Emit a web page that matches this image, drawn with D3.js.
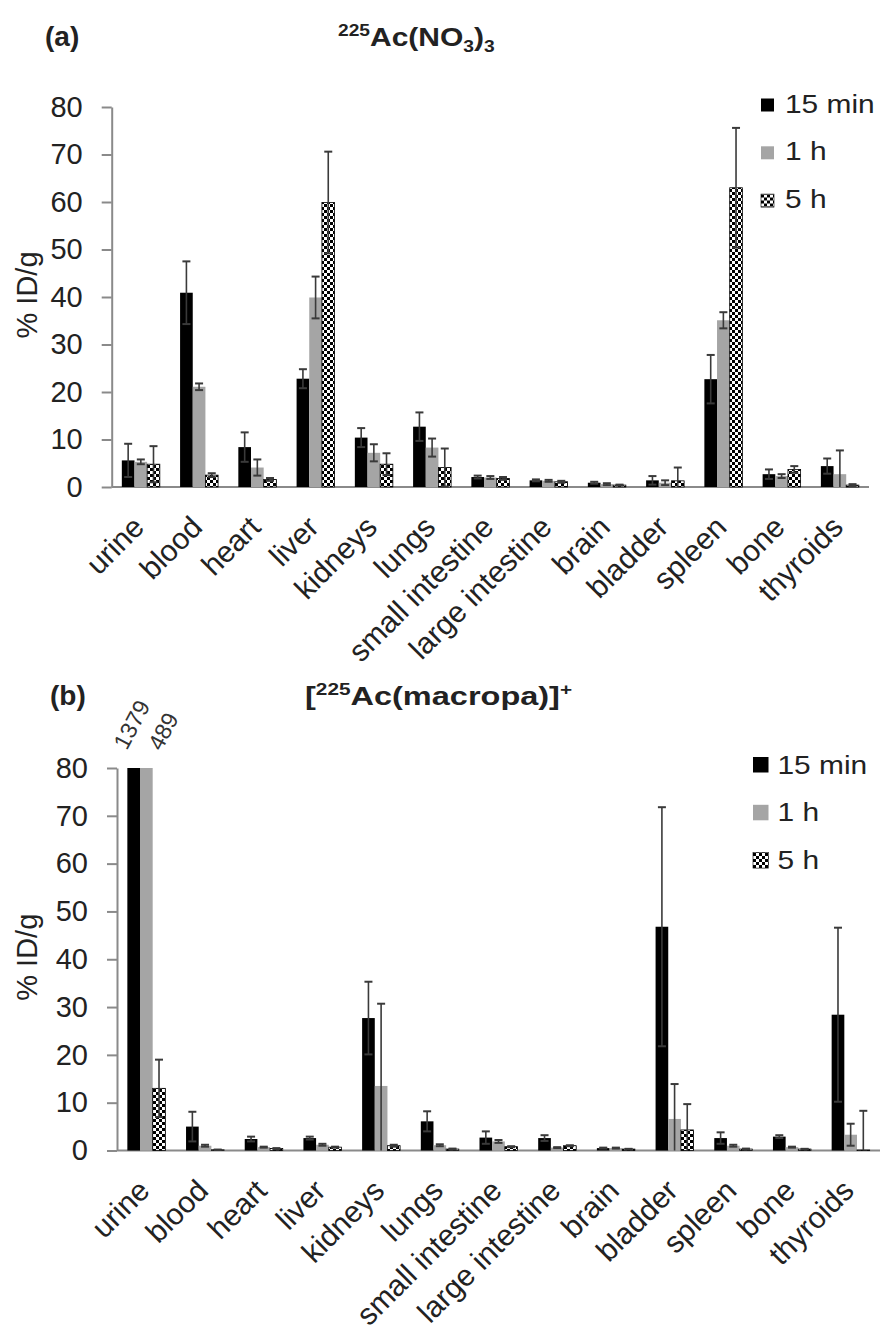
<!DOCTYPE html>
<html>
<head>
<meta charset="utf-8">
<script src="https://cdn.jsdelivr.net/npm/d3@7"></script>
<style>
  body { margin: 0; background: #fff; }
  svg text { font-family: "Liberation Sans", Arial, sans-serif; }
</style>
</head>
<body>
<div id="chart"></div>
<script>
const organs = ["urine", "blood", "heart", "liver", "kidneys", "lungs", "small intestine",
  "large intestine", "brain", "bladder", "spleen", "bone", "thyroids"];
const seriesNames = ["15 min", "1 h", "5 h"];
const yTicks = [0, 10, 20, 30, 40, 50, 60, 70, 80];

// (a) 225Ac(NO3)3, % ID/g
const nitrate15 = [5.6, 40.9, 8.4, 22.8, 10.4, 12.7, 2.1, 1.4, 0.9, 1.4, 22.7, 2.7, 4.4];
const nitrate15Err = [3.5, 6.6, 3.1, 2.0, 2.0, 3.0, 0.3, 0.2, 0.2, 0.9, 5.1, 1.0, 1.6];
const nitrate1h = [5.3, 21.1, 4.1, 39.9, 7.2, 8.3, 2.0, 1.3, 0.6, 0.9, 35.1, 2.3, 2.7];
const nitrate1hErr = [0.5, 0.7, 1.7, 4.4, 1.8, 1.9, 0.3, 0.2, 0.2, 0.5, 1.7, 0.4, 5.0];
const nitrate5h = [4.8, 2.5, 1.6, 59.9, 4.8, 4.1, 1.8, 1.1, 0.4, 1.3, 63.0, 3.7, 0.4];
const nitrate5hErr = [3.8, 0.4, 0.3, 10.7, 2.3, 4.0, 0.3, 0.2, 0.1, 2.8, 12.6, 0.7, 0.2];

// (b) [225Ac(macropa)]+, % ID/g
const macropa15 = [1379, 5.0, 2.4, 2.6, 27.7, 6.1, 2.7, 2.6, 0.5, 46.8, 2.6, 2.9, 28.4];
const macropa15Err = [null, 3.1, 0.5, 0.3, 7.6, 2.1, 1.3, 0.6, 0.1, 25.0, 1.2, 0.3, 18.2];
const macropa1h = [489, 1.0, 0.7, 1.2, 13.5, 1.1, 1.9, 0.6, 0.5, 6.6, 1.0, 0.7, 3.3];
const macropa1hErr = [null, 0.2, 0.1, 0.2, 17.2, 0.2, 0.3, 0.1, 0.1, 7.3, 0.2, 0.1, 2.3];
const macropa5h = [13.0, 0.15, 0.4, 0.7, 1.0, 0.3, 0.8, 1.0, 0.3, 4.3, 0.3, 0.3, 0.1];
const macropa5hErr = [6.0, 0.05, 0.1, 0.1, 0.2, 0.1, 0.1, 0.1, 0.05, 5.4, 0.1, 0.05, 8.2];

const W = 880, H = 1332;
const svg = d3.select('#chart').append('svg').attr('width', W).attr('height', H);

// checkered fill for 5 h
const pat = svg.append('defs').append('pattern')
  .attr('id', 'checker').attr('patternUnits', 'userSpaceOnUse')
  .attr('width', 6).attr('height', 6);
pat.append('rect').attr('width', 6).attr('height', 6).attr('fill', '#fff');
pat.append('rect').attr('width', 3).attr('height', 3).attr('fill', '#000');
pat.append('rect').attr('x', 3).attr('y', 3).attr('width', 3).attr('height', 3).attr('fill', '#000');

const fills = ['#000', '#a5a5a5', 'url(#checker)'];
const axisColor = '#8a8a8a';
const ink = '#222';

function drawPanel(p) {
  const g = svg.append('g');
  const x = d3.scaleBand().domain(organs).range([p.left, p.right]);
  const bw = x.bandwidth();
  const xs = d3.scaleBand().domain(seriesNames).range([bw / 2 - 19, bw / 2 + 19]);
  const y = d3.scaleLinear().domain([0, 80]).range([p.bottom, p.top]).clamp(true);

  // y axis
  g.append('g')
    .attr('transform', `translate(${p.left},0)`)
    .call(d3.axisLeft(y).tickValues(yTicks).tickSize(10).tickSizeOuter(0).tickPadding(19))
    .attr('font-family', null).attr('font-size', null)
    .call(s => s.selectAll('line, path').attr('stroke', axisColor).attr('stroke-width', 2))
    .call(s => s.selectAll('text').attr('font-size', 29).attr('fill', ink));

  g.append('line')
    .attr('x1', p.left).attr('x2', p.right)
    .attr('y1', y(0)).attr('y2', y(0))
    .attr('stroke', axisColor).attr('stroke-width', 2);

  const rows = organs.flatMap((o, i) => seriesNames.map((s, j) =>
    ({organ: o, s: s, j: j, v: p.means[j][i], e: p.errs[j][i]})));

  g.selectAll('rect.bar')
    .data(rows)
    .enter()
    .append('rect')
    .attr('class', 'bar')
    .attr('x', d => x(d.organ) + xs(d.s))
    .attr('y', d => y(d.v))
    .attr('width', xs.bandwidth())
    .attr('height', d => y(0) - y(d.v))
    .attr('fill', d => fills[d.j])
    .attr('stroke', d => d.j === 2 ? '#000' : 'none')
    .attr('stroke-width', 0.8);

  // error bars
  const eb = rows.filter(d => d.e != null);
  const cx = d => x(d.organ) + xs(d.s) + xs.bandwidth() / 2;
  g.selectAll('line.err')
    .data(eb)
    .enter()
    .append('line')
    .attr('class', 'err')
    .attr('x1', cx).attr('x2', cx)
    .attr('y1', d => y(d.v - d.e)).attr('y2', d => y(d.v + d.e))
    .attr('stroke', '#3a3a3a').attr('stroke-width', 1.6);
  const caps = eb.flatMap(d => [{d: d, val: d.v + d.e}, {d: d, val: d.v - d.e}])
    .filter(c => c.val > 0);
  g.selectAll('line.cap')
    .data(caps)
    .enter()
    .append('line')
    .attr('class', 'cap')
    .attr('x1', c => cx(c.d) - 4).attr('x2', c => cx(c.d) + 4)
    .attr('y1', c => y(c.val)).attr('y2', c => y(c.val))
    .attr('stroke', '#3a3a3a').attr('stroke-width', 2);

  // values beyond the axis
  const over = rows.filter(d => d.v > 80);
  g.selectAll('text.over')
    .data(over)
    .enter()
    .append('text')
    .attr('class', 'over')
    .attr('transform', (d, k) => `translate(${cx(d) + (k === 0 ? -7 : 15)},${y(80) - 17 + k}) rotate(-62)`)
    .attr('font-size', 23)
    .attr('fill', '#333')
    .text(d => d.v);

  // category labels
  g.selectAll('text.cat')
    .data(organs)
    .enter()
    .append('text')
    .attr('class', 'cat')
    .attr('text-anchor', 'end')
    .attr('transform', d => `translate(${x(d) + bw / 2 + 5},${y(0) + 42}) rotate(-45)`)
    .attr('font-size', 30)
    .attr('fill', ink)
    .text(d => d);

  // y title
  g.append('text')
    .attr('transform', `translate(37,${(p.top + p.bottom) / 2 - 2}) rotate(-90)`)
    .attr('text-anchor', 'middle')
    .attr('font-size', 29)
    .attr('fill', ink)
    .text('% ID/g');

  // legend
  const lg = g.append('g').attr('transform', `translate(${p.legendX},${p.legendY})`);
  seriesNames.forEach((s, j) => {
    lg.append('rect')
      .attr('x', 0).attr('y', j * 47.8)
      .attr('width', p.sw).attr('height', p.sw)
      .attr('fill', fills[j])
      .attr('stroke', j === 2 ? '#000' : 'none').attr('stroke-width', 0.6);
    lg.append('text')
      .attr('transform', `translate(${p.sw + p.gap},${j * 47.8 + p.sw + 1}) scale(1.15,1)`)
      .attr('font-size', 26)
      .attr('fill', ink)
      .text(s);
  });

  // panel letter and title
  g.append('text')
    .attr('x', p.letterX).attr('y', p.titleY)
    .attr('font-size', 28).attr('font-weight', 'bold').attr('fill', ink)
    .text(p.letter);
  const t = g.append('text')
    .attr('transform', `translate(${p.titleX},${p.titleY}) scale(${p.titleSx},1)`)
    .attr('font-size', 25).attr('font-weight', 'bold').attr('fill', ink);
  p.title.forEach(part => {
    const ts = t.append('tspan').text(part.t);
    if (part.sup) ts.attr('font-size', 16).attr('dy', -10);
    else if (part.sub) ts.attr('font-size', 16).attr('dy', 6);
    if (part.back) ts.attr('dy', part.back);
  });
}

drawPanel({
  left: 111.7, right: 869, top: 107, bottom: 487,
  means: [nitrate15, nitrate1h, nitrate5h],
  errs: [nitrate15Err, nitrate1hErr, nitrate5hErr],
  legendX: 761, legendY: 98.5, sw: 13, gap: 11,
  letter: '(a)', letterX: 45, titleX: 338, titleY: 46, titleSx: 1.2,
  title: [{t: '225', sup: true}, {t: 'Ac(NO', back: 10}, {t: '3', sub: true},
    {t: ')', back: -6}, {t: '3', sub: true}]
});

drawPanel({
  left: 117, right: 880, top: 768, bottom: 1150.5,
  means: [macropa15, macropa1h, macropa5h],
  errs: [macropa15Err, macropa1hErr, macropa5hErr],
  legendX: 753, legendY: 757, sw: 15.5, gap: 9,
  letter: '(b)', letterX: 50, titleX: 305, titleY: 705, titleSx: 1.3,
  title: [{t: '['}, {t: '225', sup: true}, {t: 'Ac(macropa)]', back: 10}, {t: '+', sup: true}]
});
</script>
</body>
</html>
